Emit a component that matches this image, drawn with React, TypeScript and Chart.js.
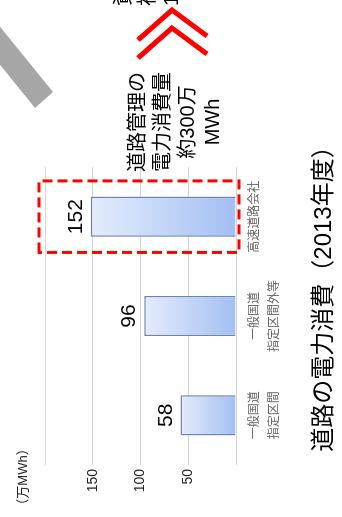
import React, { useEffect, useRef } from 'react';
import { Chart, registerables } from 'chart.js';

Chart.register(...registerables);

// ---- data ----
const categories: string[][] = [
  ['一般国道', '指定区間'],
  ['一般国道', '指定区間外等'],
  ['高速道路会社'],
];
const values: number[] = [58, 96, 152];
const valueTicks: number[] = [0, 50, 100, 150, 200];
const unitLabel = '（万MWh）';
const titleText = '道路の電力消費（2013年度）';
const noteLines: string[] = ['道路管理の', '電力消費量', '約300万', 'MWh'];
const cutLines: string[] = ['資', '補', '1'];
const highlightIndex = 2;

const FONT = "'Liberation Sans', 'Noto Sans CJK JP', sans-serif";
const W = 517;
const H = 342;

const extras = {
  id: 'extras',
  afterDatasetsDraw(chart: any) {
    const ctx = chart.ctx as CanvasRenderingContext2D;
    const meta = chart.getDatasetMeta(0);
    ctx.save();
    ctx.fillStyle = '#000';
    ctx.font = `21px ${FONT}`;
    ctx.textAlign = 'center';
    ctx.textBaseline = 'alphabetic';
    meta.data.forEach((bar: any, i: number) => {
      ctx.fillText(String(values[i]), bar.x, bar.y - 9);
    });
    ctx.restore();
  },
  afterDraw(chart: any) {
    const ctx = chart.ctx as CanvasRenderingContext2D;
    const area = chart.chartArea;
    const xs = chart.scales.x;
    const ys = chart.scales.y;
    ctx.save();

    // unit label
    ctx.fillStyle = '#222';
    ctx.font = `13px ${FONT}`;
    ctx.textAlign = 'center';
    ctx.textBaseline = 'middle';
    ctx.fillText(unitLabel, 40, 23);

    // title
    ctx.fillStyle = '#000';
    ctx.font = `24px ${FONT}`;
    ctx.fillText(titleText, 224, 324);

    // dashed highlight box
    const cw = xs.getPixelForValue(1) - xs.getPixelForValue(0);
    const cx = xs.getPixelForValue(highlightIndex);
    const top = ys.getPixelForValue(valueTicks[valueTicks.length - 1]) - 6;
    const bottom = ys.getPixelForValue(valueTicks[0]) + 3;
    ctx.strokeStyle = '#ff0000';
    ctx.lineWidth = 3;
    ctx.setLineDash([10, 5]);
    ctx.strokeRect(cx - cw * 0.36, top, cw * 0.72, bottom - top);
    ctx.setLineDash([]);

    // note text
    ctx.fillStyle = '#000';
    ctx.font = `20px ${FONT}`;
    const noteX = area.right + 45;
    noteLines.forEach((t, i) => {
      ctx.fillText(t, noteX, 138 + i * 25);
    });

    // chevrons
    ctx.strokeStyle = '#ff0000';
    ctx.lineWidth = 5;
    ctx.lineJoin = 'miter';
    const chev = (x0: number) => {
      ctx.beginPath();
      ctx.moveTo(x0, 138);
      ctx.lineTo(x0 + 30, 172);
      ctx.lineTo(x0 + 4, 207);
      ctx.stroke();
    };
    chev(477);
    chev(459);

    // gray band
    ctx.fillStyle = '#a6a6a6';
    ctx.beginPath();
    ctx.moveTo(515, -20);
    ctx.lineTo(425, 53);
    ctx.lineTo(409, 35);
    ctx.lineTo(477, -20);
    ctx.closePath();
    ctx.fill();

    // cut-off text at the far edge
    ctx.fillStyle = '#000';
    ctx.font = `20px ${FONT}`;
    ctx.textAlign = 'left';
    cutLines.forEach((t, i) => {
      ctx.fillText(t, 511, 124 + i * 24);
    });

    ctx.restore();
  },
};

export default function App() {
  const ref = useRef<HTMLCanvasElement | null>(null);

  useEffect(() => {
    const canvas = ref.current;
    if (!canvas) return;
    const chart = new Chart(canvas, {
      type: 'bar',
      data: {
        labels: categories,
        datasets: [
          {
            data: values,
            backgroundColor: (c: any) => {
              const ch = c.chart;
              const ys = ch.scales?.y;
              if (!ys || c.dataIndex === undefined || !ch.chartArea) return '#c4d6f7';
              const yTop = ys.getPixelForValue(values[c.dataIndex]);
              const yBase = ys.getPixelForValue(0);
              const g = ch.ctx.createLinearGradient(0, yTop, 0, yBase);
              g.addColorStop(0, '#e4ecfc');
              g.addColorStop(1, '#a3bff3');
              return g;
            },
            borderColor: '#6f84ad',
            borderWidth: 1.5,
            barPercentage: 0.405,
            categoryPercentage: 1,
          },
        ],
      },
      options: {
        responsive: false,
        animation: false,
        devicePixelRatio: 1,
        layout: { padding: { top: 45, right: 167, left: 0, bottom: 0 } },
        plugins: {
          legend: { display: false },
          tooltip: { enabled: false },
          title: { display: false },
        },
        scales: {
          x: {
            grid: { display: false, drawTicks: false },
            border: { display: false },
            ticks: {
              color: '#666',
              font: { family: FONT, size: 12, lineHeight: '20px' as any },
              padding: 9,
              maxRotation: 0,
              minRotation: 0,
            },
            afterFit: (s: any) => {
              s.height = 106;
            },
          },
          y: {
            min: valueTicks[0],
            max: valueTicks[valueTicks.length - 1],
            ticks: {
              stepSize: valueTicks[1] - valueTicks[0],
              color: '#222',
              font: { family: FONT, size: 14 },
              padding: 4,
              callback: (v: any) =>
                v === valueTicks[0] || v === valueTicks[valueTicks.length - 1] ? '' : String(v),
            },
            grid: { color: '#d6d6d6', drawTicks: false, lineWidth: 1 },
            border: { display: false },
            afterFit: (s: any) => {
              s.width = 52;
            },
          },
        },
      },
      plugins: [extras],
    });
    return () => chart.destroy();
  }, []);

  return (
    <div
      style={{
        position: 'fixed',
        left: 0,
        top: 0,
        width: 342,
        height: 517,
        overflow: 'hidden',
        background: '#fff',
      }}
    >
      <div
        style={{
          position: 'absolute',
          left: 0,
          top: 0,
          width: W,
          height: H,
          transformOrigin: '0 0',
          transform: `translateY(${W}px) rotate(-90deg)`,
        }}
      >
        <canvas ref={ref} width={W} height={H} style={{ display: 'block' }} />
      </div>
    </div>
  );
}
